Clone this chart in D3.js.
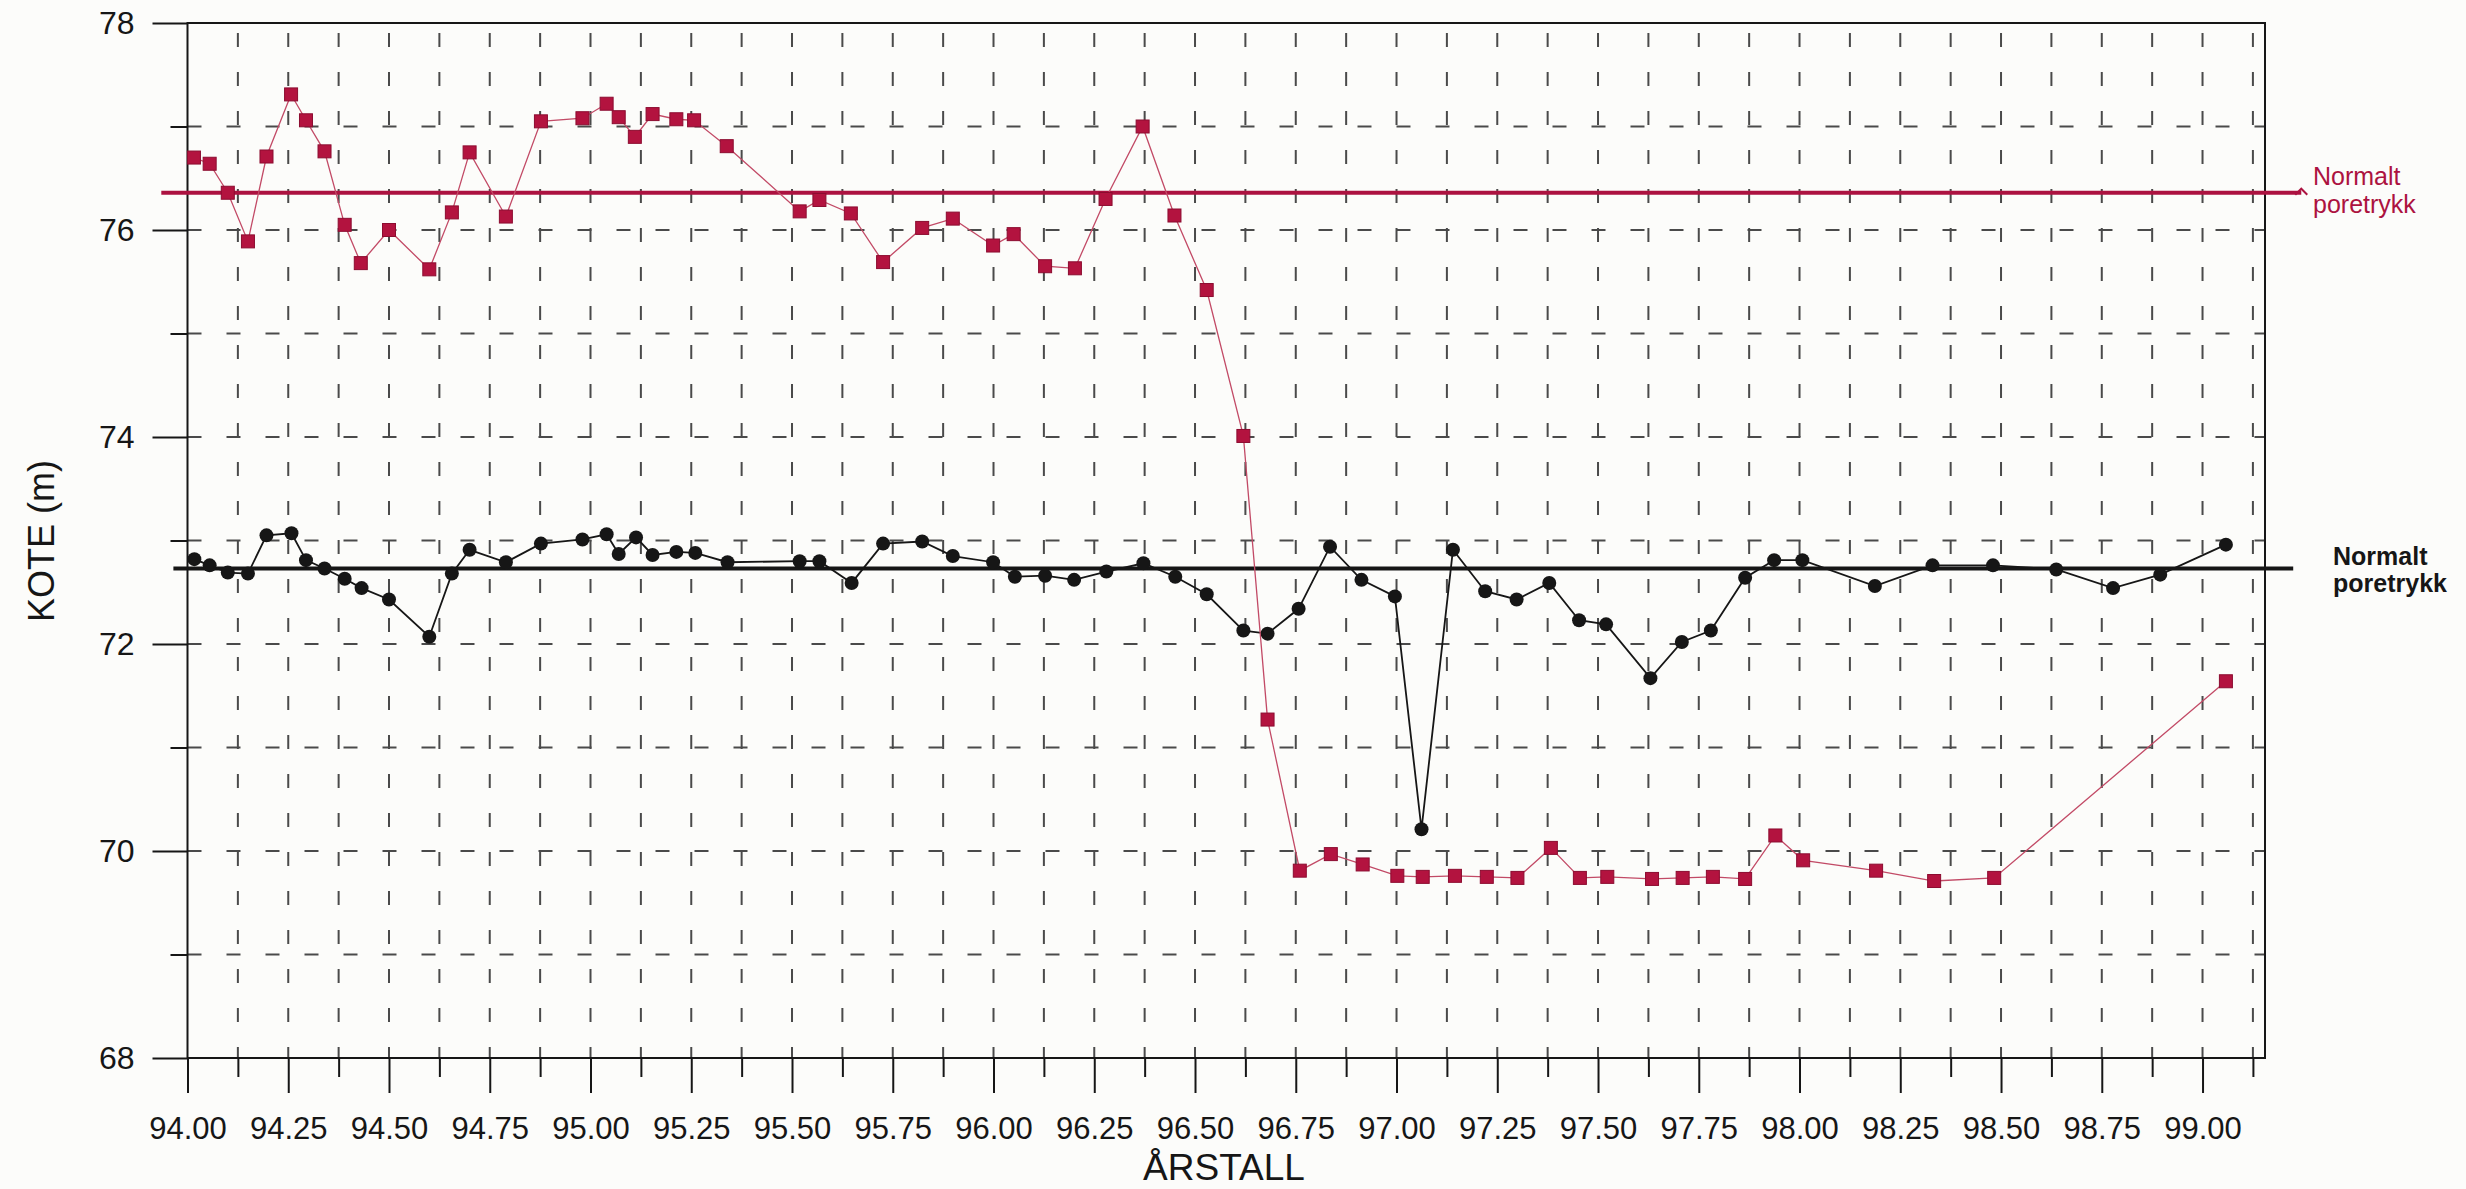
<!DOCTYPE html>
<html>
<head>
<meta charset="utf-8">
<script src="https://cdn.jsdelivr.net/npm/d3@7"></script>
<style>
  html, body { margin: 0; padding: 0; background: #fcfcfa; }
  svg { display: block; font-family: "Liberation Sans", Arial, sans-serif; }
</style>
</head>
<body>
<div id="chart"></div>
<script>
var W = 2466,
	H = 1189;

// red series (squares)
var redYears = [94.016, 94.055, 94.10, 94.15, 94.196, 94.257, 94.294, 94.34, 94.39, 94.43, 94.50, 94.60, 94.656, 94.70, 94.79, 94.877, 94.98, 95.04, 95.07, 95.11, 95.154, 95.213, 95.257, 95.338, 95.519, 95.568, 95.646, 95.726, 95.823, 95.899, 95.999, 96.05, 96.128, 96.202, 96.278, 96.37, 96.449, 96.529, 96.62, 96.68, 96.76, 96.837, 96.916, 97.002, 97.065, 97.145, 97.224, 97.30, 97.383, 97.455, 97.523, 97.634, 97.71, 97.785, 97.865, 97.94, 98.009, 98.19, 98.334, 98.483, 99.058];
var redValues = [76.70, 76.64, 76.36, 75.89, 76.71, 77.31, 77.06, 76.76, 76.05, 75.68, 76.00, 75.62, 76.17, 76.75, 76.13, 77.05, 77.08, 77.22, 77.09, 76.90, 77.12, 77.07, 77.06, 76.81, 76.18, 76.29, 76.16, 75.69, 76.02, 76.11, 75.85, 75.96, 75.65, 75.63, 76.30, 77.00, 76.14, 75.42, 74.01, 71.27, 69.81, 69.97, 69.87, 69.76, 69.75, 69.76, 69.75, 69.74, 70.03, 69.74, 69.75, 69.73, 69.74, 69.75, 69.73, 70.15, 69.91, 69.81, 69.71, 69.74, 71.64];

// black series (circles)
var blackYears = [94.017, 94.055, 94.10, 94.15, 94.196, 94.258, 94.294, 94.34, 94.39, 94.432, 94.50, 94.60, 94.656, 94.70, 94.79, 94.877, 94.98, 95.04, 95.07, 95.113, 95.154, 95.213, 95.26, 95.34, 95.519, 95.568, 95.648, 95.726, 95.823, 95.899, 95.999, 96.053, 96.128, 96.20, 96.28, 96.372, 96.451, 96.529, 96.62, 96.68, 96.757, 96.835, 96.913, 96.996, 97.062, 97.14, 97.22, 97.298, 97.379, 97.453, 97.52, 97.63, 97.708, 97.78, 97.865, 97.937, 98.007, 98.187, 98.33, 98.48, 98.637, 98.778, 98.895, 99.058];
var blackValues = [72.82, 72.76, 72.69, 72.68, 73.05, 73.07, 72.81, 72.73, 72.63, 72.54, 72.43, 72.07, 72.68, 72.91, 72.79, 72.97, 73.01, 73.06, 72.87, 73.03, 72.86, 72.89, 72.88, 72.79, 72.80, 72.80, 72.59, 72.97, 72.99, 72.85, 72.79, 72.65, 72.66, 72.62, 72.70, 72.78, 72.65, 72.48, 72.13, 72.10, 72.34, 72.94, 72.62, 72.46, 70.21, 72.91, 72.51, 72.43, 72.59, 72.23, 72.19, 71.67, 72.02, 72.13, 72.64, 72.81, 72.81, 72.56, 72.76, 72.76, 72.72, 72.54, 72.67, 72.96];

// "Normalt poretrykk" reference levels and their year extents
var normalRed = 76.36,
	normalRedYears = [93.935, 99.245];
var normalBlack = 72.73,
	normalBlackYears = [93.965, 99.225];

// ticks
var yMajorTicks = [68, 70, 72, 74, 76, 78];
var yMinorTicks = [69, 71, 73, 75, 77];
var yGrid = [69, 70, 71, 72, 73, 74, 75, 76, 77];
var xMajorTicks = [94.00, 94.25, 94.50, 94.75, 95.00, 95.25, 95.50, 95.75, 96.00, 96.25, 96.50, 96.75, 97.00, 97.25, 97.50, 97.75, 98.00, 98.25, 98.50, 98.75, 99.00];
var xMinorTicks = [94.125, 94.375, 94.625, 94.875, 95.125, 95.375, 95.625, 95.875, 96.125, 96.375, 96.625, 96.875, 97.125, 97.375, 97.625, 97.875, 98.125, 98.375, 98.625, 98.875, 99.125];

var red = "#ac1240",
	ink = "#161616",
	gridCol = "#4a4a4a";

var x = d3.scaleLinear().domain([94, 99.155]).range([187.5, 2265]);
var y = d3.scaleLinear().domain([68, 78]).range([1058, 23]);

var svg = d3.select("#chart").append("svg")
	.attr("width", W)
	.attr("height", H);

svg.append("rect").attr("width", W).attr("height", H).attr("fill", "#fcfcfa");

//////////////// grid ////////////////
var xGrid = xMajorTicks.concat(xMinorTicks).filter(function(d){ return d > 94; });

svg.append("g").selectAll("line")
	.data(xGrid)
	.enter().append("line")
	.attr("x1", function(d){ return x(d); })
	.attr("x2", function(d){ return x(d); })
	.attr("y1", y(68))
	.attr("y2", y(78))
	.attr("stroke", gridCol)
	.attr("stroke-width", 2)
	.attr("stroke-dasharray", "14,25")
	.attr("stroke-dashoffset", 3);

svg.append("g").selectAll("line")
	.data(yGrid)
	.enter().append("line")
	.attr("x1", x(94))
	.attr("x2", x.range()[1])
	.attr("y1", function(d){ return y(d); })
	.attr("y2", function(d){ return y(d); })
	.attr("stroke", gridCol)
	.attr("stroke-width", 2)
	.attr("stroke-dasharray", "14,25");

//////////////// axes ////////////////
var xAxisMajor = d3.axisBottom(x).tickValues(xMajorTicks).tickSize(35).tickSizeOuter(0)
	.tickPadding(24).tickFormat(d3.format(".2f"));
var xAxisMinor = d3.axisBottom(x).tickValues(xMinorTicks).tickSize(19).tickSizeOuter(0)
	.tickFormat("");
var yAxisMajor = d3.axisLeft(y).tickValues(yMajorTicks).tickSize(35).tickSizeOuter(0)
	.tickPadding(18).tickFormat(d3.format("d"));
var yAxisMinor = d3.axisLeft(y).tickValues(yMinorTicks).tickSize(17).tickSizeOuter(0)
	.tickFormat("");

function styleAxis(g) {
	g.selectAll("path.domain").remove();
	g.selectAll("line").attr("stroke", ink).attr("stroke-width", 2);
	g.selectAll("text").attr("fill", ink).attr("font-family", "'Liberation Sans', Arial, sans-serif");
}

svg.append("g").attr("transform", "translate(0," + y(68) + ")").call(xAxisMajor).call(styleAxis)
	.selectAll("text").attr("font-size", "31px");
svg.append("g").attr("transform", "translate(0," + y(68) + ")").call(xAxisMinor).call(styleAxis);
svg.append("g").attr("transform", "translate(" + x(94) + ",0)").call(yAxisMajor).call(styleAxis)
	.selectAll("text").attr("font-size", "32px");
svg.append("g").attr("transform", "translate(" + x(94) + ",0)").call(yAxisMinor).call(styleAxis);

// frame
svg.append("rect")
	.attr("x", x(94))
	.attr("y", y(78))
	.attr("width", x.range()[1] - x(94))
	.attr("height", y(68) - y(78))
	.attr("fill", "none")
	.attr("stroke", ink)
	.attr("stroke-width", 2);

// axis titles
svg.append("text")
	.attr("x", 1224)
	.attr("y", 1180)
	.attr("text-anchor", "middle")
	.attr("font-size", "37px")
	.attr("fill", ink)
	.text("ÅRSTALL");

svg.append("text")
	.attr("transform", "translate(54,541) rotate(-90)")
	.attr("text-anchor", "middle")
	.attr("font-size", "36px")
	.attr("fill", ink)
	.text("KOTE (m)");

//////////////// normal level lines ////////////////
svg.append("line")
	.attr("x1", x(normalRedYears[0]))
	.attr("x2", x(normalRedYears[1]))
	.attr("y1", y(normalRed))
	.attr("y2", y(normalRed))
	.attr("stroke", red)
	.attr("stroke-width", 4);

svg.append("path")
	.attr("d", "M" + (x(normalRedYears[1]) - 6) + "," + (y(normalRed) + 2) + "l6,-6l6,6")
	.attr("fill", "none")
	.attr("stroke", red)
	.attr("stroke-width", 2);

svg.append("line")
	.attr("x1", x(normalBlackYears[0]))
	.attr("x2", x(normalBlackYears[1]))
	.attr("y1", y(normalBlack))
	.attr("y2", y(normalBlack))
	.attr("stroke", ink)
	.attr("stroke-width", 4);

var redLabel = svg.append("text")
	.attr("font-size", "25px")
	.attr("fill", red);
redLabel.append("tspan").attr("x", 2313).attr("y", y(normalRed) - 8).text("Normalt");
redLabel.append("tspan").attr("x", 2313).attr("y", y(normalRed) + 20).text("poretrykk");

var blackLabel = svg.append("text")
	.attr("font-size", "25px")
	.attr("font-weight", "bold")
	.attr("fill", ink);
blackLabel.append("tspan").attr("x", 2333).attr("y", y(normalBlack) - 3).text("Normalt");
blackLabel.append("tspan").attr("x", 2333).attr("y", y(normalBlack) + 24).text("poretrykk");

//////////////// series ////////////////
var redData = redYears.map(function(d, i){ return [d, redValues[i]]; });
var blackData = blackYears.map(function(d, i){ return [d, blackValues[i]]; });

var line = d3.line()
	.x(function(d){ return x(d[0]); })
	.y(function(d){ return y(d[1]); });

svg.append("path")
	.datum(blackData)
	.attr("d", line)
	.attr("fill", "none")
	.attr("stroke", ink)
	.attr("stroke-width", 1.8);

svg.append("g").selectAll("circle")
	.data(blackData)
	.enter().append("circle")
	.attr("cx", function(d){ return x(d[0]); })
	.attr("cy", function(d){ return y(d[1]); })
	.attr("r", 7)
	.attr("fill", ink);

svg.append("path")
	.datum(redData)
	.attr("d", line)
	.attr("fill", "none")
	.attr("stroke", "#c24a66")
	.attr("stroke-width", 1.3);

svg.append("g").selectAll("rect")
	.data(redData)
	.enter().append("rect")
	.attr("x", function(d){ return x(d[0]) - 6.5; })
	.attr("y", function(d){ return y(d[1]) - 6.5; })
	.attr("width", 13)
	.attr("height", 13)
	.attr("fill", "#b3133f")
	.attr("stroke", "#8c0c30")
	.attr("stroke-width", 1);
</script>
</body>
</html>
